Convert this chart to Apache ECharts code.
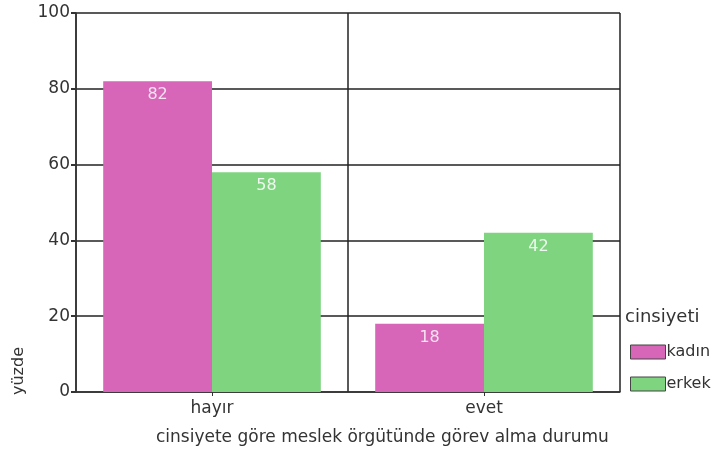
<!DOCTYPE html>
<html><head><meta charset="utf-8">
<script src="https://cdn.jsdelivr.net/npm/echarts@6/dist/echarts.min.js"></script>
<style>html,body{margin:0;padding:0;background:#fff}#c{width:717px;height:457px}</style>
</head><body><div id="c"></div>
<script>
const categories = ['hayır', 'evet'];
const kadin = [82, 18];
const erkek = [58, 42];
const yTicks = [0, 20, 40, 60, 80, 100];
const seriesNames = ['kadın', 'erkek'];
const xTitle = 'cinsiyete göre meslek örgütünde görev alma durumu';
const yTitle = 'yüzde';
const legendTitle = 'cinsiyeti';

const FONT = 'DejaVu Sans';
const chart = echarts.init(document.getElementById('c'));
const lbl = (c) => ({show: true, position: 'insideTop', distance: 6, color: c, fontFamily: FONT, fontSize: 16});
chart.setOption({
  animation: false,
  grid: {left: 76, right: 97, top: 13, bottom: 65},
  legend: {
    orient: 'vertical', left: 630, top: 344, padding: 0, itemWidth: 35, itemHeight: 14, itemGap: 16,
    icon: 'rect',
    textStyle: {fontFamily: FONT, fontSize: 16, color: '#333', padding: [0,0,0,-4]},
    data: seriesNames.map(n => ({name: n, itemStyle: {borderColor: '#444', borderWidth: 1}}))
  },
  graphic: [
    {type: 'text', left: 625, top: 308, style: {text: legendTitle, fontFamily: FONT, fontSize: 18, fill: '#333'}},
    {type: 'text', left: 156, top: 429, style: {text: xTitle, fontFamily: FONT, fontSize: 17, fill: '#333'}},
    {type: 'text', x: 11, y: 395, rotation: Math.PI/2, style: {text: yTitle, fontFamily: FONT, fontSize: 16, fill: '#333', align: 'left', verticalAlign: 'top'}}
  ],
  xAxis: {
    type: 'category', data: categories,
    axisLine: {lineStyle: {color: '#333', width: 1.5}},
    axisTick: {show: true, alignWithLabel: true, length: 4, lineStyle: {color: '#333'}},
    axisLabel: {fontFamily: FONT, fontSize: 17, color: '#333', margin: 8},
    splitLine: {show: true, lineStyle: {color: '#222', width: 1.5}}
  },
  yAxis: {
    type: 'value', min: yTicks[0], max: yTicks[yTicks.length-1], interval: 20,
    axisLine: {show: true, lineStyle: {color: '#333', width: 1.5}},
    axisTick: {show: true, length: 5, lineStyle: {color: '#333', width: 2}},
    axisLabel: {fontFamily: FONT, fontSize: 17, color: '#333', margin: 6},
    splitLine: {lineStyle: {color: '#222', width: 1.5}}
  },
  series: [
    {name: seriesNames[0], type: 'bar', data: kadin, barGap: '0%', barCategoryGap: '20%',
     itemStyle: {color: '#d766b9'}, label: lbl('#f3e2f0')},
    {name: seriesNames[1], type: 'bar', data: erkek,
     itemStyle: {color: '#7fd480'}, label: lbl('#eef8ee')}
  ]
});
</script></body></html>
